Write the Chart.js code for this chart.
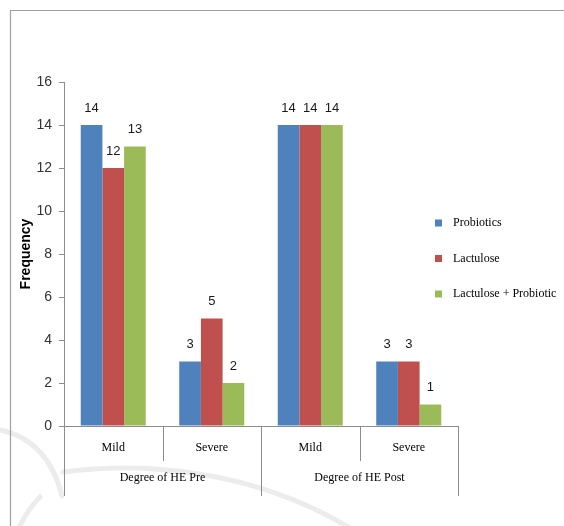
<!DOCTYPE html>
<html>
<head>
<meta charset="utf-8">
<title>Degree of HE</title>
<script src="https://cdn.jsdelivr.net/npm/chart.js@4.4.1/dist/chart.umd.min.js"></script>
<style>
  html, body { margin: 0; padding: 0; background: #ffffff; }
  #wrap { width: 564px; height: 526px; }
</style>
</head>
<body>
<div id="wrap"><canvas id="chart" width="564" height="526"></canvas></div>
<script>
// Categories: severity within each assessment period
const categories = ["Mild", "Severe", "Mild", "Severe"];
const groups = ["Degree of HE Pre", "Degree of HE Post"];
const groupSize = 2;

// Frequency per treatment arm
const seriesNames = ["Probiotics", "Lactulose", "Lactulose + Probiotic"];
const probiotics = [14, 3, 14, 3];
const lactulose = [12, 5, 14, 3];
const lactuloseProbiotic = [13, 2, 14, 1];

// Y-axis ticks
const yTicks = [0, 2, 4, 6, 8, 10, 12, 14, 16];

const colors = ["#4F81BD", "#C0504D", "#9BBB59"];
const serif = "'Liberation Serif', 'Times New Roman', serif";
const sans = "'Liberation Sans', Arial, sans-serif";

// Light frame and faint background marks
const backdrop = {
  id: "backdrop",
  beforeDraw(chart) {
    const ctx = chart.ctx;
    ctx.save();
    ctx.strokeStyle = "#ececec";
    ctx.lineWidth = 5;
    ctx.lineCap = "round";
    ctx.beginPath();
    ctx.moveTo(0, 430);
    ctx.quadraticCurveTo(48, 440, 62, 496);
    ctx.stroke();
    ctx.beginPath();
    ctx.moveTo(63, 472);
    ctx.bezierCurveTo(140, 462, 250, 468, 350, 528);
    ctx.stroke();
    ctx.beginPath();
    ctx.moveTo(19, 528);
    ctx.quadraticCurveTo(27, 510, 40, 497);
    ctx.stroke();
    ctx.restore();

    ctx.save();
    ctx.strokeStyle = "#a0a0a0";
    ctx.lineWidth = 1.2;
    ctx.beginPath();
    ctx.moveTo(10.5, 530);
    ctx.lineTo(10.5, 10.5);
    ctx.lineTo(570, 10.5);
    ctx.stroke();
    ctx.restore();
  }
};

// Two-level category axis drawn below the plot
const groupedAxis = {
  id: "groupedAxis",
  afterDraw(chart) {
    const ctx = chart.ctx;
    const x = chart.scales.x;
    const area = chart.chartArea;
    const n = categories.length;
    const step = (area.right - area.left) / n;
    const y0 = area.bottom;
    ctx.save();
    ctx.strokeStyle = "#8c8c8c";
    ctx.lineWidth = 1;
    // axis line
    ctx.beginPath();
    ctx.moveTo(area.left, y0 + 0.5);
    ctx.lineTo(area.right, y0 + 0.5);
    ctx.stroke();
    // dividers
    for (let i = 0; i <= n; i++) {
      const px = Math.round(area.left + i * step) + 0.5;
      const long = i % groupSize === 0;
      ctx.beginPath();
      ctx.moveTo(px, y0);
      ctx.lineTo(px, y0 + (long ? 70 : 35));
      ctx.stroke();
    }
    ctx.fillStyle = "#000000";
    ctx.textAlign = "center";
    ctx.textBaseline = "middle";
    ctx.font = "12px " + serif;
    categories.forEach((c, i) => {
      ctx.fillText(c, x.getPixelForValue(i), y0 + 22);
    });
    groups.forEach((g, gi) => {
      const cx = area.left + (gi * groupSize + groupSize / 2) * step;
      ctx.fillText(g, cx, y0 + 52);
    });
    ctx.restore();
  }
};

// Value labels above each bar
const valueLabels = {
  id: "valueLabels",
  afterDatasetsDraw(chart) {
    const ctx = chart.ctx;
    ctx.save();
    ctx.fillStyle = "#1a1a1a";
    ctx.font = "13px " + sans;
    ctx.textAlign = "center";
    ctx.textBaseline = "middle";
    chart.data.datasets.forEach((ds, di) => {
      chart.getDatasetMeta(di).data.forEach((bar, i) => {
        ctx.fillText(String(ds.data[i]), bar.x, bar.y - 17);
      });
    });
    ctx.restore();
  }
};

// Legend at the right
const sideLegend = {
  id: "sideLegend",
  afterDraw(chart) {
    const ctx = chart.ctx;
    ctx.save();
    ctx.font = "12px " + serif;
    ctx.textBaseline = "middle";
    ctx.textAlign = "left";
    chart.data.datasets.forEach((ds, i) => {
      const cy = 223 + i * 35.5;
      ctx.fillStyle = ds.backgroundColor;
      ctx.fillRect(435, cy - 3.5, 7, 7);
      ctx.fillStyle = "#000000";
      ctx.fillText(ds.label, 453, cy);
    });
    ctx.restore();
  }
};

new Chart(document.getElementById("chart"), {
  type: "bar",
  data: {
    labels: categories,
    datasets: [
      { label: seriesNames[0], data: probiotics, backgroundColor: colors[0] },
      { label: seriesNames[1], data: lactulose, backgroundColor: colors[1] },
      { label: seriesNames[2], data: lactuloseProbiotic, backgroundColor: colors[2] }
    ]
  },
  options: {
    responsive: false,
    animation: false,
    events: [],
    layout: { padding: { left: 14, right: 106, top: 82, bottom: 0 } },
    datasets: { bar: { categoryPercentage: 0.66, barPercentage: 1.0, borderWidth: 0 } },
    plugins: { legend: { display: false }, tooltip: { enabled: false } },
    scales: {
      x: {
        display: true,
        ticks: { display: false },
        grid: { display: false },
        border: { display: false },
        afterFit(scale) { scale.height = 100; }
      },
      y: {
        min: 0,
        max: 16,
        afterBuildTicks(scale) { scale.ticks = yTicks.map(v => ({ value: v })); },
        ticks: { padding: 7, color: "#333333", font: { family: sans, size: 14 } },
        grid: { drawOnChartArea: false, drawTicks: true, tickLength: 5, color: "#8c8c8c" },
        border: { display: true, color: "#8c8c8c" },
        title: {
          display: true,
          text: "Frequency",
          color: "#000000",
          font: { family: sans, size: 14, weight: "bold" },
          padding: { top: 4, bottom: 4 }
        },
        afterFit(scale) { scale.width = 50; }
      }
    }
  },
  plugins: [backdrop, groupedAxis, valueLabels, sideLegend]
});
</script>
</body>
</html>
